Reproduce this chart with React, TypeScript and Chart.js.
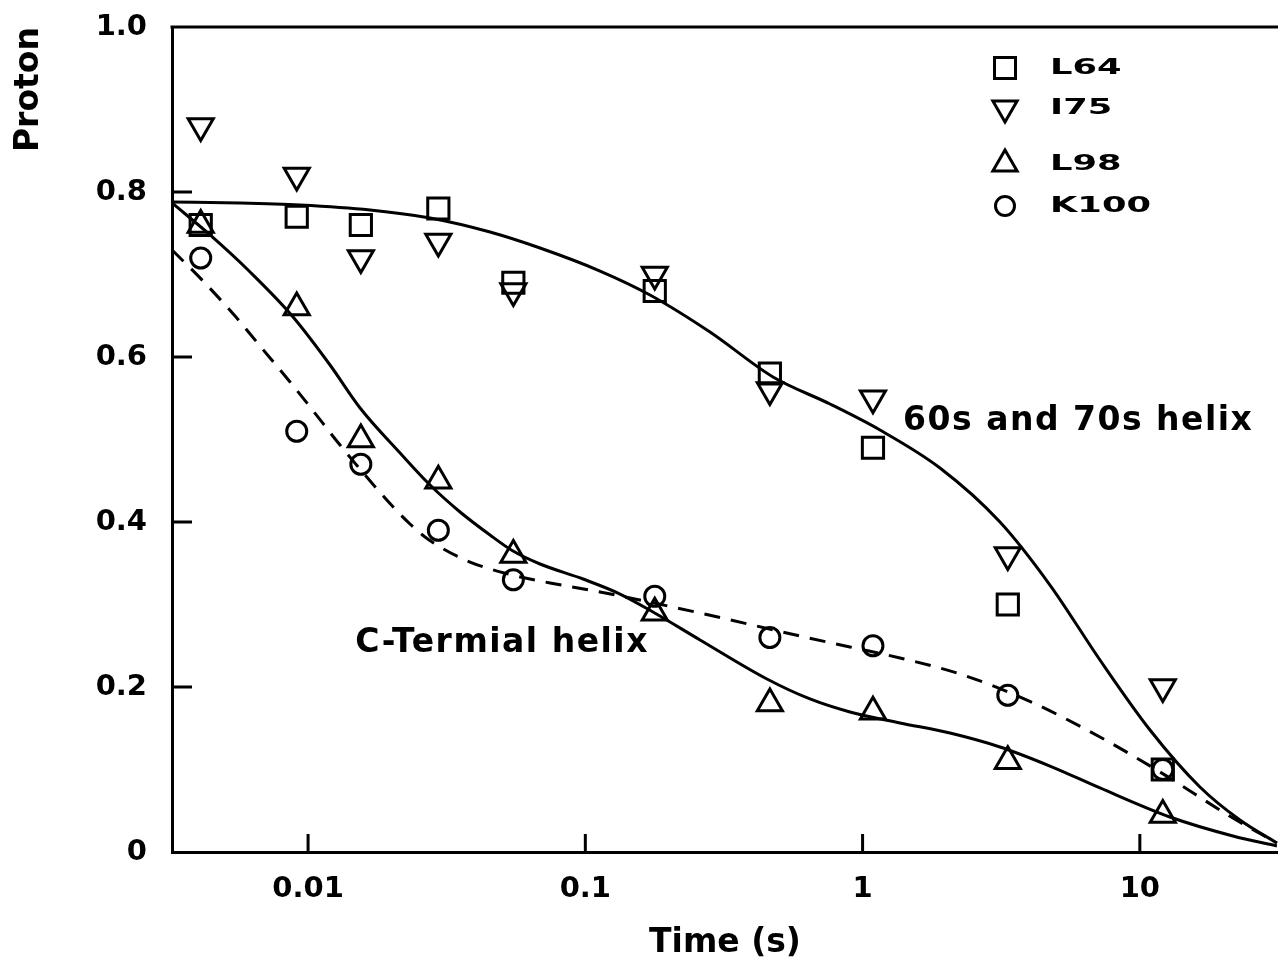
import React, { useEffect, useRef } from 'react';
import { Chart, registerables } from 'chart.js';

Chart.register(...registerables);

// Measurement times (s) shared by the four residues
const timeS = [0.0041, 0.0091, 0.0155, 0.0295, 0.055, 0.178, 0.463, 1.09, 3.34, 12.1];
const protonL64 = [0.76, 0.77, 0.76, 0.78, 0.69, 0.68, 0.58, 0.49, 0.30, 0.10];
const protonI75 = [0.88, 0.82, 0.72, 0.74, 0.68, 0.70, 0.56, 0.55, 0.36, 0.20];
const protonL98 = [0.76, 0.66, 0.50, 0.45, 0.36, 0.29, 0.18, 0.17, 0.11, 0.045];
const protonK100 = [0.72, 0.51, 0.47, 0.39, 0.33, 0.31, 0.26, 0.25, 0.19, 0.10];

// Fitted curves
const fitHelixTime = [0.003232, 0.005685, 0.009358, 0.01673, 0.02754, 0.04532, 0.06864, 0.1130, 0.1711, 0.2816, 0.4752, 0.7630, 1.1555, 1.9017, 3.130, 4.741, 7.181, 10.88, 16.47, 22.96, 31.22];
const fitHelixValue = [0.788, 0.7867, 0.7842, 0.7782, 0.7685, 0.7515, 0.7321, 0.7042, 0.6752, 0.6303, 0.5758, 0.5430, 0.5115, 0.4655, 0.4000, 0.3236, 0.2327, 0.1479, 0.0788, 0.0388, 0.0109];

const fitCTermTime = [0.003232, 0.004431, 0.006177, 0.008829, 0.01200, 0.01540, 0.02147, 0.02754, 0.03533, 0.04532, 0.05486, 0.06864, 0.09811, 0.1334, 0.1754, 0.2593, 0.4519, 0.6461, 0.9006, 1.364, 2.066, 3.130, 4.741, 7.181, 12.84, 21.66, 31.22];
const fitCTermValue = [0.7867, 0.7479, 0.7030, 0.6485, 0.5903, 0.5382, 0.4836, 0.4448, 0.4121, 0.3842, 0.3648, 0.3491, 0.3309, 0.3127, 0.2909, 0.2570, 0.2097, 0.1855, 0.1697, 0.1564, 0.1442, 0.1273, 0.1042, 0.0776, 0.0424, 0.0194, 0.0073];

const fitK100Time = [0.003232, 0.004180, 0.005453, 0.006712, 0.008612, 0.01017, 0.01304, 0.01773, 0.02059, 0.02332, 0.02641, 0.02992, 0.03838, 0.05440, 0.07460, 0.1130, 0.2593, 0.5946, 0.9006, 1.364, 2.245, 3.916, 7.181, 11.82, 21.66, 31.22];
const fitK100Value = [0.7297, 0.6921, 0.6497, 0.6133, 0.5697, 0.5394, 0.4933, 0.4400, 0.4158, 0.3976, 0.3818, 0.3697, 0.3515, 0.3358, 0.3261, 0.3152, 0.2897, 0.2618, 0.2485, 0.2352, 0.2158, 0.1842, 0.1394, 0.0970, 0.0412, 0.0109];

const xTickValues = [0.01, 0.1, 1, 10];
const xTickLabels = ['0.01', '0.1', '1', '10'];
const yTickValues = [0, 0.2, 0.4, 0.6, 0.8, 1.0];
const yTickLabels = ['0', '0.2', '0.4', '0.6', '0.8', '1.0'];
const seriesLabels = ['L64', 'I75', 'L98', 'K100'];
const annotationTexts = ['60s and 70s helix', 'C-Termial helix'];

const toPoints = (xs: number[], ys: number[]) => xs.map((x, i) => ({ x, y: ys[i] }));

const FONT = '"DejaVu Sans", "Liberation Sans", sans-serif';

function drawMarker(ctx: CanvasRenderingContext2D, style: string, x: number, y: number, r: number) {
  ctx.beginPath();
  if (style === 'rect') {
    ctx.rect(x - r, y - r, 2 * r, 2 * r);
  } else if (style === 'triUp') {
    ctx.moveTo(x, y - r);
    ctx.lineTo(x + 0.866 * r, y + r / 2);
    ctx.lineTo(x - 0.866 * r, y + r / 2);
    ctx.closePath();
  } else if (style === 'triDown') {
    ctx.moveTo(x, y + r);
    ctx.lineTo(x + 0.866 * r, y - r / 2);
    ctx.lineTo(x - 0.866 * r, y - r / 2);
    ctx.closePath();
  } else {
    ctx.arc(x, y, r, 0, Math.PI * 2);
  }
  ctx.stroke();
}

const framePlugin = {
  id: 'frameAndNotes',
  afterDatasetsDraw(chart: any, _args: any, opts: any) {
    const { ctx, chartArea } = chart;
    const { left, top, right, bottom } = chartArea;
    const xs = chart.scales.x;
    const ys = chart.scales.y;
    ctx.save();
    ctx.strokeStyle = '#000';
    ctx.fillStyle = '#000';
    ctx.lineWidth = 3;
    // top frame line
    ctx.beginPath();
    ctx.moveTo(left - 1.5, top);
    ctx.lineTo(right, top);
    ctx.stroke();
    // inward tick marks
    ctx.beginPath();
    xTickValues.forEach((v) => {
      const px = xs.getPixelForValue(v);
      ctx.moveTo(px, bottom);
      ctx.lineTo(px, bottom - 18);
    });
    yTickValues.forEach((v) => {
      if (v <= 0 || v >= 1) return;
      const py = ys.getPixelForValue(v);
      ctx.moveTo(left, py);
      ctx.lineTo(left + 20, py);
    });
    ctx.stroke();

    // annotations
    ctx.font = `bold 33px ${FONT}`;
    (ctx as any).letterSpacing = '1.5px';
    ctx.textAlign = 'left';
    ctx.textBaseline = 'middle';
    opts.notes.forEach((n: any, i: number) => {
      ctx.fillText(annotationTexts[i], xs.getPixelForValue(n.x), ys.getPixelForValue(n.y));
    });
    (ctx as any).letterSpacing = '0px';

    // legend inside plot
    const lg = opts.legend;
    ctx.lineWidth = 3;
    ctx.font = `bold 21px ${FONT}`;
    seriesLabels.forEach((label, i) => {
      const y = top + lg.rows[i];
      const mx = right - lg.markerFromRight;
      drawMarker(ctx, lg.styles[i], mx, y, lg.sizes[i]);
      ctx.save();
      ctx.translate(right - lg.textFromRight, y);
      ctx.scale(1.68, 1);
      ctx.fillText(label, 0, 1);
      ctx.restore();
    });
    ctx.restore();
  },
};

export default function App() {
  const ref = useRef<HTMLCanvasElement>(null);

  useEffect(() => {
    const canvas = ref.current;
    if (!canvas) return;
    const markerBase = {
      showLine: false,
      borderColor: '#000',
      backgroundColor: 'rgba(0,0,0,0)',
      pointBorderColor: '#000',
      pointBackgroundColor: 'rgba(0,0,0,0)',
      pointBorderWidth: 3,
    };
    const curveBase = {
      showLine: true,
      borderColor: '#000',
      borderWidth: 3,
      pointRadius: 0,
      cubicInterpolationMode: 'monotone' as const,
      fill: false,
    };
    const tickFont = { family: FONT, size: 29, weight: 'bold' as const };
    const titleFont = { family: FONT, size: 33, weight: 'bold' as const };

    const chart = new Chart(canvas, {
      type: 'scatter',
      data: {
        datasets: [
          { ...markerBase, label: seriesLabels[0], data: toPoints(timeS, protonL64), pointStyle: 'rect', pointRadius: 15 },
          { ...markerBase, label: seriesLabels[1], data: toPoints(timeS, protonI75), pointStyle: 'triangle', pointRotation: 180, pointRadius: 14.5 },
          { ...markerBase, label: seriesLabels[2], data: toPoints(timeS, protonL98), pointStyle: 'triangle', pointRadius: 14.5 },
          { ...markerBase, label: seriesLabels[3], data: toPoints(timeS, protonK100), pointStyle: 'circle', pointRadius: 10 },
          { ...curveBase, label: '60s and 70s helix fit', data: toPoints(fitHelixTime, fitHelixValue) },
          { ...curveBase, label: 'C-Termial helix fit', data: toPoints(fitCTermTime, fitCTermValue) },
          { ...curveBase, label: 'K100 fit', data: toPoints(fitK100Time, fitK100Value), borderDash: [16, 11] },
        ] as any,
      },
      options: {
        responsive: true,
        maintainAspectRatio: false,
        animation: false,
        layout: { autoPadding: false, padding: { top: 27, left: 0, right: 0, bottom: 0 } },
        plugins: {
          legend: { display: false },
          tooltip: { enabled: false },
          frameAndNotes: {
            notes: [
              { x: 1.40, y: 0.522 },
              { x: 0.0148, y: 0.253 },
            ],
            legend: {
              rows: [41, 81, 137, 179],
              markerFromRight: 273,
              textFromRight: 228,
              styles: ['rect', 'triDown', 'triUp', 'circle'],
              sizes: [10.5, 14, 14, 9.5],
            },
          },
        } as any,
        scales: {
          x: {
            type: 'logarithmic',
            min: 0.00323,
            max: 31.5,
            grid: { display: false, drawTicks: false },
            border: { display: true, color: '#000', width: 3 },
            afterBuildTicks: (s: any) => {
              s.ticks = xTickValues.map((v) => ({ value: v }));
            },
            afterFit: (s: any) => {
              s.height = 115;
              s.paddingLeft = 0;
              s.paddingRight = 0;
            },
            ticks: {
              callback: (v: any) => xTickLabels[xTickValues.indexOf(Number(v))],
              color: '#000',
              font: tickFont,
              padding: 20,
              maxRotation: 0,
              autoSkip: false,
            },
            title: { display: true, text: 'Time (s)', color: '#000', font: titleFont, padding: { top: 4, bottom: 4 } },
          },
          y: {
            type: 'linear',
            min: 0,
            max: 1,
            grid: { display: false, drawTicks: false },
            border: { display: true, color: '#000', width: 3 },
            afterBuildTicks: (s: any) => {
              s.ticks = yTickValues.map((v) => ({ value: v }));
            },
            afterFit: (s: any) => {
              s.width = 172;
              s.paddingTop = 0;
              s.paddingBottom = 0;
            },
            ticks: {
              callback: (v: any) => yTickLabels[yTickValues.indexOf(Number(v))],
              color: '#000',
              font: tickFont,
              padding: 25,
              autoSkip: false,
            },
            title: { display: true, text: 'Proton', align: 'end', color: '#000', font: titleFont, padding: { top: 10, bottom: 0 } },
          },
        } as any,
      },
      plugins: [framePlugin],
    });
    return () => chart.destroy();
  }, []);

  return (
    <div style={{ position: 'absolute', left: 0, top: 0, width: 1278, height: 967, background: '#fff' }}>
      <canvas ref={ref} />
    </div>
  );
}
